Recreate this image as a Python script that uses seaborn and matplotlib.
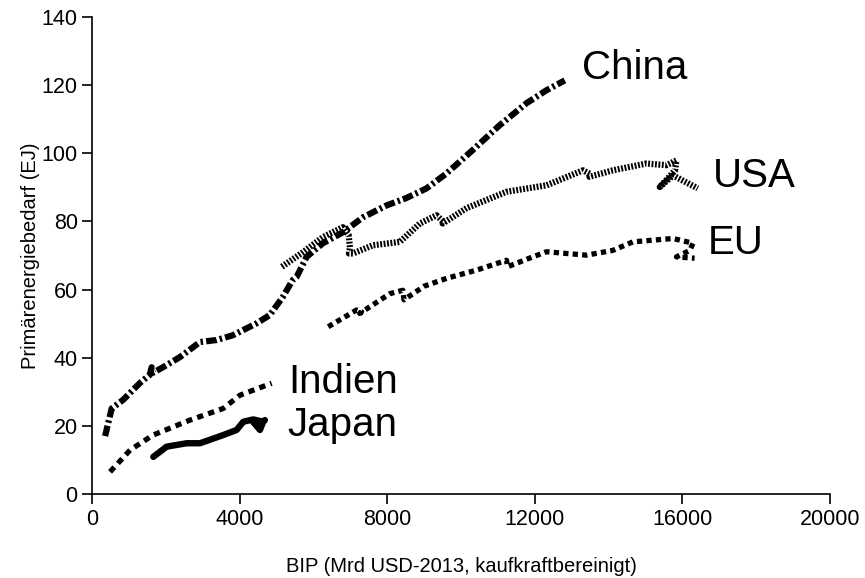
import numpy as np
import pandas as pd
import matplotlib
matplotlib.use("Agg")
import matplotlib.pyplot as plt
import seaborn as sns

# data (BIP in Mrd USD-2013, Primärenergiebedarf in EJ)
china_x = [347, 526, 832, 1293, 1560, 1610, 1650, 1916, 2377, 2919, 3371, 3813,
           4455, 4810, 5163, 5434, 5539, 5810, 6252, 6794, 7336, 7978, 8500,
           9062, 9604, 10309, 11041, 11772, 12314, 12810]
china_y = [17.0, 25.1, 27.6, 32.6, 35.0, 37.2, 35.6, 37.2, 40.2, 44.6, 45.2, 46.6,
           50.1, 52.5, 57.8, 62.8, 63.7, 69.6, 73.6, 76.8, 81.2, 84.7, 86.8,
           89.7, 94.1, 100.9, 108.2, 114.7, 118.5, 121.4]

usa_x = [5140, 5716, 6252, 6794, 6950, 6985, 6960, 7065, 7607, 8339, 8881,
         9333, 9514, 9500, 10146, 11230, 12314, 13303, 13487, 13480, 14113,
         15024, 15566, 15837, 15800, 15385, 15745, 16414]
usa_y = [66.7, 71.0, 75.4, 78.3, 76.0, 72.4, 70.6, 70.6, 73.0, 74.0, 79.4,
         81.8, 80.0, 79.4, 83.9, 88.7, 90.6, 95.0, 94.0, 93.1, 95.0,
         97.0, 96.5, 97.9, 95.0, 90.1, 93.5, 89.7]

eu_x = [6396, 7165, 7300, 7250, 8068, 8420, 8450, 9000, 9604, 10417, 11230,
        11260, 11944, 12314, 13398, 14113, 14655, 15745, 16287, 16200, 15837,
        16330]
eu_y = [49.1, 54.0, 53.5, 53.0, 58.8, 59.8, 57.0, 61.0, 63.3, 65.7, 68.6,
        66.7, 69.6, 71.1, 70.1, 71.5, 74.0, 75.0, 73.6, 71.5, 69.6, 69.2]

indien_x = [482, 1024, 1648, 2648, 3547, 4003, 4862]
indien_y = [6.5, 12.9, 17.3, 21.7, 25.1, 29.0, 32.5]

japan_x = [1654, 2016, 2558, 2919, 3550, 3913, 4093, 4363, 4634, 4545, 4363,
           4500, 4680]
japan_y = [10.9, 13.9, 14.9, 14.9, 17.3, 18.8, 21.2, 21.9, 21.2, 18.8, 21.2,
           20.0, 21.7]

label_names = ["China", "USA", "EU", "Indien", "Japan"]
label_x = [13271, 16818, 16680, 5304, 5277]
label_y = [124.9, 93.3, 73.6, 32.9, 20.2]

sns.set_style("ticks")
plt.rcParams["font.family"] = ["Liberation Sans", "DejaVu Sans"]

fig = plt.figure(figsize=(8.65, 5.78), dpi=100)
ax = fig.add_axes([0.1067, 0.1453, 0.8528, 0.8253])

series = [
    (china_x, china_y, (0, (1.7, 0.5, 0.4, 0.5)), 4.5),
    (usa_x, usa_y, (0, (0.3, 0.25)), 4.5),
    (eu_x, eu_y, (0, (1.0, 0.8)), 3.8),
    (indien_x, indien_y, (0, (1.2, 1.0)), 3.8),
    (japan_x, japan_y, "-", 4.6),
]
for xs, ys, ls, lw in series:
    df = pd.DataFrame({"x": xs, "y": ys})
    sns.lineplot(data=df, x="x", y="y", sort=False, estimator=None,
                 color="black", linewidth=lw, linestyle=ls, ax=ax)

for name, lx, ly in zip(label_names, label_x, label_y):
    ax.text(lx, ly, name, fontsize=29, ha="left", va="center", color="black")

ax.set_xlim(0, 20000)
ax.set_ylim(0, 140)
ax.set_xticks([0, 4000, 8000, 12000, 16000, 20000])
ax.set_yticks([0, 20, 40, 60, 80, 100, 120, 140])
ax.tick_params(labelsize=15.5, length=7, width=1.2, colors="black")
ax.set_xlabel("BIP (Mrd USD-2013, kaufkraftbereinigt)", fontsize=14.5,
              labelpad=20, color="black")
ax.set_ylabel("Primärenergiebedarf (EJ)", fontsize=14.5, labelpad=1,
              color="black")
for s in ["left", "bottom"]:
    ax.spines[s].set_color("black")
    ax.spines[s].set_linewidth(1.2)
sns.despine(ax=ax)

fig.savefig("out.png", dpi=100)
